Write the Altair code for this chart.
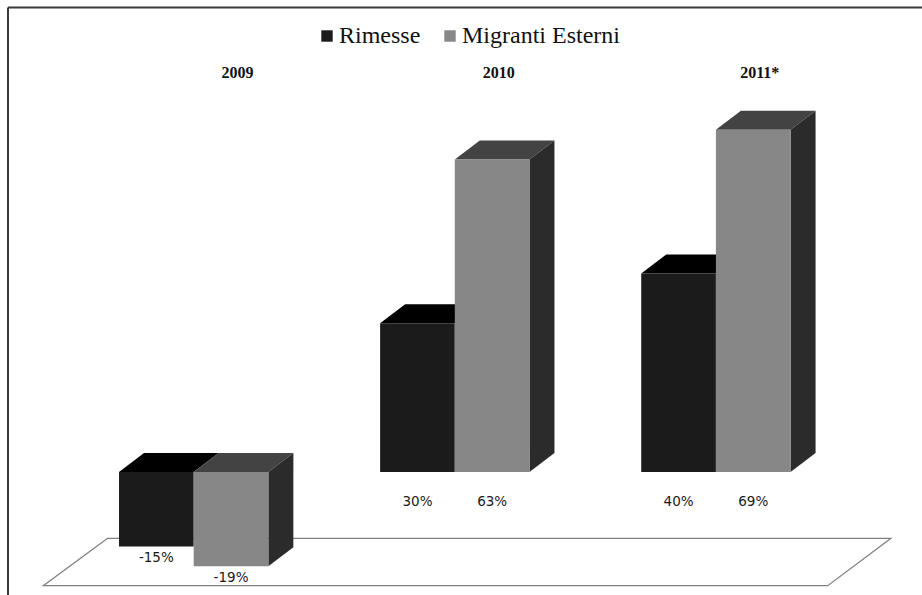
import altair as alt
import pandas as pd

# ---- data ----
years = ["2009", "2010", "2011*"]
series = ["Rimesse", "Migranti Esterni"]
rimesse = [-15, 30, 40]
migranti = [-19, 63, 69]
value_labels_r = ["-15%", "30%", "40%"]
value_labels_m = ["-19%", "63%", "69%"]

# ---- geometry / style (in data units of the scales) ----
BAR_W = 0.286          # width of one bar (group spacing = 1)
DX, DY = 0.0957, 3.83  # 3D depth offset
X_DOMAIN = [-0.7418, 2.7893]
Y_DOMAIN = [-24.80, 95.16]
FRONT_COLORS = ["#1b1b1b", "#878787"]
TOP_COLORS = ["#000000", "#434343"]
SIDE_COLOR = "#2b2b2b"

xs = alt.Scale(domain=X_DOMAIN, nice=False, zero=False)
ys = alt.Scale(domain=Y_DOMAIN, nice=False, zero=False)


def X(f, **kw):
    return alt.X(f, type="quantitative", scale=xs, axis=None, **kw)


def Y(f, **kw):
    return alt.Y(f, type="quantitative", scale=ys, axis=None, **kw)


bar_rows, top_rows, side_rows, lab_rows = [], [], [], []
for gi, yr in enumerate(years):
    for si, (s, vals, labs) in enumerate(zip(series, [rimesse, migranti],
                                             [value_labels_r, value_labels_m])):
        v = vals[gi]
        x0 = gi - BAR_W + si * BAR_W
        x1 = x0 + BAR_W
        top, bot = max(v, 0), min(v, 0)
        bid = f"{yr}-{s}"
        bar_rows.append(dict(id=bid, year=yr, series=s, value=v,
                             x0=x0, x1=x1, top=top, bot=bot))
        top_rows += [dict(id=bid, series=s, y=top, xa=x0, xb=x1),
                     dict(id=bid, series=s, y=top + DY, xa=x0 + DX, xb=x1 + DX)]
        side_rows += [dict(id=bid, series=s, x=x1, ya=bot, yb=top),
                      dict(id=bid, series=s, x=x1 + DX, ya=bot + DY, yb=top + DY)]
        lab_rows.append(dict(series=s, label=labs[gi], x=(x0 + x1) / 2,
                             y=(v - 2.4) if v < 0 else -6.1))

bars = pd.DataFrame(bar_rows)
tops = pd.DataFrame(top_rows)
sides = pd.DataFrame(side_rows)
labels = pd.DataFrame(lab_rows)
year_df = pd.DataFrame({"year": years, "x": [i + 0.168 for i in range(len(years))],
                        "y": [80.5] * len(years)})
floor = pd.DataFrame({"y": [-22.92, -13.37], "xa": [-0.576, -0.3294],
                      "xb": [2.4282, 2.6706]})

floor_layer = alt.Chart(floor).mark_area(
    orient="horizontal", fill="white", stroke="#808080", strokeWidth=1.2
).encode(y=Y("y"), x=X("xa", stack=None), x2="xb")

top_layers = []
for s, c in zip(series, TOP_COLORS):
    top_layers.append(
        alt.Chart(tops).transform_filter(alt.datum.series == s).mark_area(
            orient="horizontal", color=c
        ).encode(y=Y("y"), x=X("xa", stack=None), x2="xb", detail="id:N")
    )

side_layer = alt.Chart(sides).transform_filter(
    alt.datum.series == series[1]
).mark_area(orient="vertical", color=SIDE_COLOR).encode(
    x=X("x"), y=Y("ya", stack=None), y2="yb", detail="id:N")

front_layer = alt.Chart(bars).mark_rect().encode(
    x=X("x0"), x2="x1", y=Y("bot"), y2="top",
    color=alt.Color("series:N", scale=alt.Scale(domain=series, range=FRONT_COLORS),
                    legend=alt.Legend(orient="none", legendX=312, legendY=24,
                                      direction="horizontal", title=None,
                                      symbolType="square", symbolSize=130,
                                      symbolStrokeWidth=0, symbolOpacity=1,
                                      symbolOffset=3,
                                      labelFont="Liberation Serif", labelFontSize=24,
                                      labelColor="#111111", labelOffset=0,
                                      columnPadding=14, labelLimit=400))
)

value_layer = alt.Chart(labels).mark_text(
    font="DejaVu Sans", fontSize=13.5, color="#1a1a1a", baseline="middle", align="center"
).encode(x=X("x"), y=Y("y"), text="label:N")

year_layer = alt.Chart(year_df).mark_text(
    font="Liberation Serif", fontSize=16, fontWeight="bold", color="#111111",
    baseline="middle", align="center"
).encode(x=X("x"), y=Y("y"), text="year:N")

frame_df = pd.DataFrame({"k": [0]})
frame_top = alt.Chart(frame_df).mark_rule(color="#3a3a3a", strokeWidth=2).encode(
    x=alt.value(8), x2=alt.value(922), y=alt.value(7.5))
frame_left = alt.Chart(frame_df).mark_rule(color="#3a3a3a", strokeWidth=2).encode(
    x=alt.value(8), y=alt.value(7.5), y2=alt.value(595))

chart = alt.layer(
    floor_layer, *top_layers, side_layer, front_layer,
    value_layer, year_layer, frame_top, frame_left
).properties(
    width=922, height=595, padding=0, autosize="none", background="white"
).configure_view(stroke=None)

chart.save("out.html", embed_options={"renderer": "svg", "actions": False})
